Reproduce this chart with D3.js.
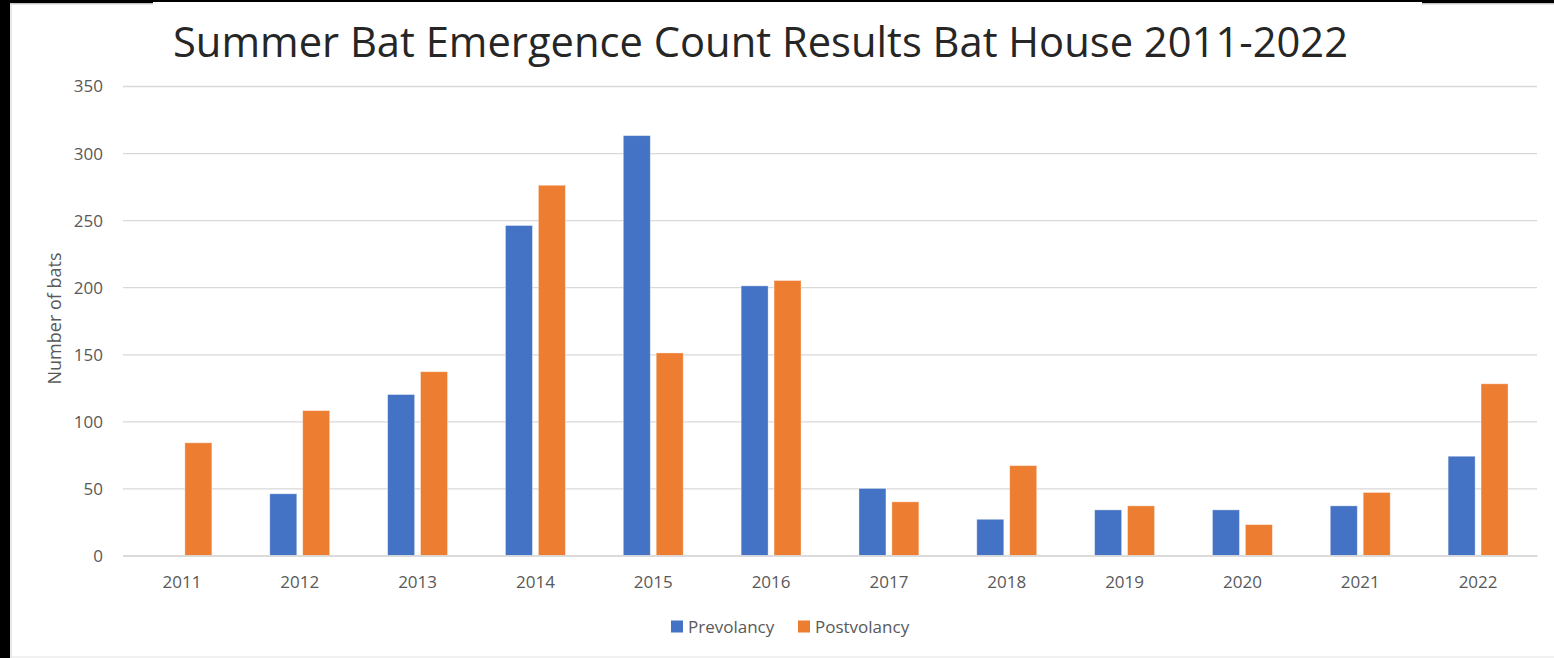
<!DOCTYPE html>
<html>
<head>
<meta charset="utf-8">
<script src="https://cdn.jsdelivr.net/npm/d3@7"></script>
<style>
  body { margin: 0; background: #fff; }
  svg { display: block; font-family: "Open Sans", sans-serif; }
  .tick text { fill: #595959; }
</style>
</head>
<body>
<svg id="chart"></svg>
<script>
// data
var years = ["2011","2012","2013","2014","2015","2016","2017","2018","2019","2020","2021","2022"];
var prevolancy  = [0, 46, 120, 246, 313, 201, 50, 27, 34, 34, 37, 74];
var postvolancy = [84, 108, 137, 276, 151, 205, 40, 67, 37, 23, 47, 128];
var seriesNames = ["Prevolancy","Postvolancy"];
var seriesColors = ["#4472C4","#ED7D31"];
var yTicks = [0, 50, 100, 150, 200, 250, 300, 350];

var width = 1554, height = 658;
var plot = {left:123, right:1537, top:86, bottom:555.5};

var svg = d3.select("#chart")
  .attr("width", width)
  .attr("height", height);

// frame of the screenshot (black strips + thin grey chart border)
svg.append("rect").attr("x",0).attr("y",0).attr("width",10).attr("height",height).attr("fill","#000");
svg.append("rect").attr("x",0).attr("y",0).attr("width",width).attr("height",2).attr("fill","#000");
svg.append("rect").attr("x",0).attr("y",0).attr("width",153).attr("height",3.3).attr("fill","#000");
svg.append("rect").attr("x",1422).attr("y",0).attr("width",132).attr("height",3.3).attr("fill","#000");
svg.append("line").attr("x1",11).attr("x2",11).attr("y1",3).attr("y2",height).attr("stroke","#d0d0d0");
svg.append("line").attr("x1",11).attr("x2",153).attr("y1",4).attr("y2",4).attr("stroke","#d0d0d0");
svg.append("line").attr("x1",1422).attr("x2",width).attr("y1",4).attr("y2",4).attr("stroke","#d0d0d0");
svg.append("line").attr("x1",11).attr("x2",width).attr("y1",657).attr("y2",657).attr("stroke","#e3e3e3");

var x0 = d3.scaleBand()
  .domain(years)
  .range([plot.left, plot.right]);

var x1 = d3.scaleBand()
  .domain(seriesNames)
  .range([0, x0.bandwidth()])
  .paddingInner(0.18)
  .paddingOuter(0.88);

var y = d3.scaleLinear()
  .domain([0, 350])
  .range([plot.bottom, plot.top]);

var color = d3.scaleOrdinal().domain(seriesNames).range(seriesColors);

// gridlines + y labels
var yAxis = d3.axisLeft(y)
  .tickValues(yTicks)
  .tickSize(-(plot.right - plot.left))
  .tickPadding(20);

svg.append("g")
  .attr("transform", "translate(" + plot.left + ",0)")
  .call(yAxis)
  .call(function(g){ g.select(".domain").remove(); })
  .call(function(g){
    g.selectAll(".tick line").attr("stroke","#d9d9d9").attr("stroke-width",1.3);
    g.selectAll(".tick text").attr("font-size",17).attr("font-family","Open Sans").attr("dy","0.35em");
  });

// bars
var rows = years.map(function(yr, i){
  return {year: yr, values: [
    {key: "Prevolancy", value: prevolancy[i]},
    {key: "Postvolancy", value: postvolancy[i]}
  ]};
});

var groups = svg.append("g").selectAll("g")
  .data(rows)
  .enter()
  .append("g")
  .attr("transform", function(d){ return "translate(" + x0(d.year) + ",0)"; });

groups.selectAll("rect")
  .data(function(d){ return d.values.filter(function(v){ return v.value > 0; }); })
  .enter()
  .append("rect")
  .attr("x", function(d){ return x1(d.key); })
  .attr("width", x1.bandwidth())
  .attr("y", function(d){ return y(d.value); })
  .attr("height", function(d){ return y(0) - y(d.value); })
  .attr("fill", function(d){ return color(d.key); })
  .attr("stroke", "#ffffff")
  .attr("stroke-opacity", 0.45)
  .attr("stroke-width", 0.8);

// x axis
var xAxis = d3.axisBottom(x0).tickSize(0).tickPadding(20);
svg.append("g")
  .attr("transform", "translate(0," + plot.bottom + ")")
  .call(xAxis)
  .call(function(g){
    g.select(".domain").attr("stroke","#d9d9d9").attr("stroke-width",1.5);
    g.selectAll(".tick text").attr("font-size",17).attr("font-family","Open Sans");
  });

// title
svg.append("text")
  .text("Summer Bat Emergence Count Results Bat House 2011-2022")
  .attr("x", 760.5)
  .attr("y", 57)
  .attr("text-anchor", "middle")
  .attr("font-size", 42)
  .attr("fill", "#262626")
  .attr("textLength", 1175)
  .attr("lengthAdjust", "spacingAndGlyphs");

// y axis title
svg.append("g")
  .attr("transform", "translate(61,318.5)")
  .append("text")
  .text("Number of bats")
  .attr("transform", "rotate(-90)")
  .attr("text-anchor", "middle")
  .attr("font-size", 18)
  .attr("fill", "#595959");

// legend
var legendX = [671, 798];
var legend = svg.append("g").selectAll("g")
  .data(seriesNames)
  .enter()
  .append("g")
  .attr("transform", function(d, i){ return "translate(" + legendX[i] + ",620.5)"; });

legend.append("rect")
  .attr("width", 12)
  .attr("height", 12)
  .attr("fill", function(d){ return color(d); });

legend.append("text")
  .text(function(d){ return d; })
  .attr("x", 17)
  .attr("y", 12)
  .attr("font-size", 17)
  .attr("fill", "#595959");
</script>
</body>
</html>
